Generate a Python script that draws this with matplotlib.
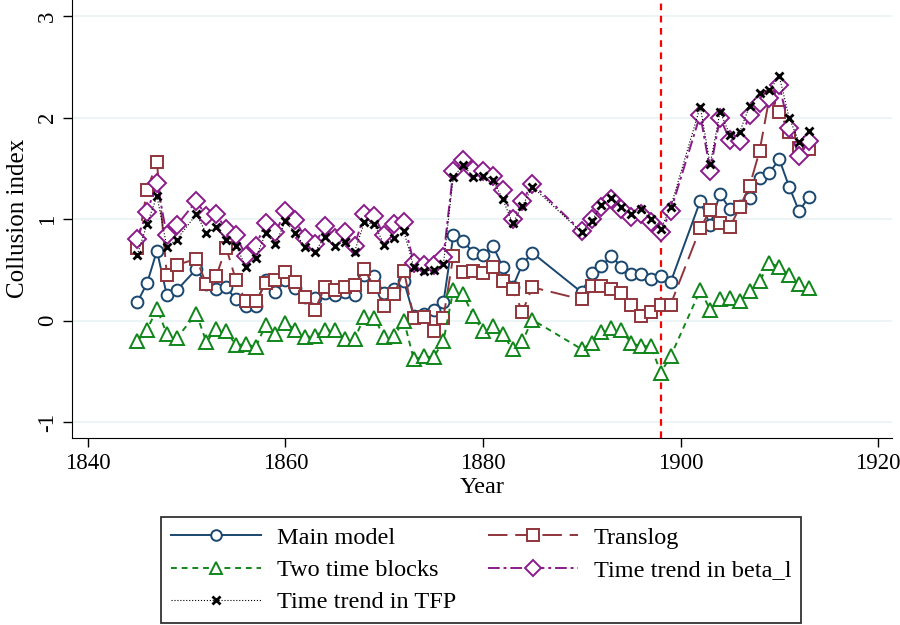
import matplotlib
matplotlib.use("Agg")
import matplotlib.pyplot as plt
import numpy as np

plt.rcParams['font.family'] = ['Liberation Serif', 'DejaVu Serif']

years = [1845, 1846, 1847, 1848, 1849,
         1851, 1852, 1853, 1854, 1855, 1856, 1857, 1858, 1859, 1860,
         1861, 1862, 1863, 1864, 1865, 1866, 1867, 1868, 1869, 1870,
         1871, 1872, 1873, 1874, 1875, 1876, 1877, 1878, 1879, 1880,
         1881, 1882, 1883, 1884, 1885,
         1890, 1891, 1892, 1893, 1894, 1895, 1896, 1897, 1898, 1899,
         1902, 1903, 1904, 1905, 1906, 1907, 1908, 1909, 1910, 1911, 1912, 1913]

main_model = [0.18, 0.37, 0.69, 0.25, 0.30,
              0.51, 0.36, 0.31, 0.33, 0.21, 0.15, 0.15, 0.40, 0.28, 0.40,
              0.32, 0.23, 0.22, 0.27, 0.25, 0.28, 0.25, 0.45, 0.44, 0.27,
              0.31, 0.39, 0.05, 0.07, 0.11, 0.18, 0.84, 0.79, 0.67, 0.65,
              0.74, 0.53, 0.33, 0.56, 0.67,
              0.28, 0.47, 0.54, 0.64, 0.53, 0.46, 0.46, 0.41, 0.44, 0.38,
              1.18, 0.94, 1.25, 1.10, 1.13, 1.21, 1.41, 1.46, 1.59, 1.32, 1.08, 1.22]

translog = [0.72, 1.29, 1.56, 0.45, 0.55,
            0.61, 0.36, 0.44, 0.72, 0.40, 0.19, 0.19, 0.37, 0.40, 0.48,
            0.38, 0.23, 0.11, 0.33, 0.30, 0.33, 0.35, 0.51, 0.33, 0.15,
            0.26, 0.49, 0.03, 0.04, -0.10, 0.03, 0.64, 0.48, 0.49, 0.47,
            0.53, 0.39, 0.31, 0.09, 0.33,
            0.21, 0.34, 0.34, 0.31, 0.27, 0.16, 0.05, 0.09, 0.16, 0.16,
            0.91, 1.09, 0.96, 0.92, 1.12, 1.33, 1.67, 2.20, 2.06, 1.86, 1.70, 1.69]

two_blocks = [-0.20, -0.09, 0.12, -0.13, -0.17,
              0.07, -0.21, -0.08, -0.10, -0.24, -0.23, -0.26, -0.04, -0.13, -0.02,
              -0.09, -0.16, -0.15, -0.09, -0.09, -0.18, -0.18, 0.04, 0.03, -0.16,
              -0.15, 0.00, -0.38, -0.35, -0.36, -0.20, 0.30, 0.26, 0.05, -0.10,
              -0.05, -0.13, -0.28, -0.20, 0.01,
              -0.28, -0.22, -0.11, -0.07, -0.09, -0.22, -0.25, -0.25, -0.51, -0.35,
              0.30, 0.11, 0.21, 0.22, 0.19, 0.29, 0.39, 0.57, 0.53, 0.45, 0.36, 0.32]

trend_beta = [0.81, 1.07, 1.36, 0.84, 0.94,
              1.18, 1.03, 1.05, 0.90, 0.84, 0.64, 0.74, 0.96, 0.87, 1.08,
              0.99, 0.82, 0.76, 0.93, 0.82, 0.87, 0.74, 1.05, 1.03, 0.84,
              0.95, 0.97, 0.57, 0.55, 0.55, 0.63, 1.48, 1.58, 1.49, 1.48,
              1.43, 1.29, 1.00, 1.18, 1.35,
              0.88, 1.00, 1.12, 1.20, 1.10, 1.02, 1.05, 0.97, 0.87, 1.08,
              2.03, 1.48, 2.00, 1.78, 1.77, 2.03, 2.15, 2.19, 2.32, 1.90, 1.62, 1.77]

trend_tfp = [0.65, 0.95, 1.23, 0.73, 0.80,
             1.05, 0.86, 0.92, 0.80, 0.74, 0.53, 0.62, 0.86, 0.76, 0.98,
             0.86, 0.73, 0.68, 0.83, 0.74, 0.78, 0.68, 0.97, 0.95, 0.75,
             0.82, 0.88, 0.53, 0.49, 0.50, 0.56, 1.42, 1.53, 1.42, 1.43,
             1.39, 1.20, 0.96, 1.13, 1.32,
             0.87, 0.98, 1.14, 1.21, 1.12, 1.05, 1.10, 1.00, 0.90, 1.12,
             2.11, 1.54, 2.06, 1.83, 1.86, 2.12, 2.24, 2.27, 2.41, 2.00, 1.76, 1.87]

break_year = 1898

fig = plt.figure(figsize=(9, 6.25), dpi=100)
ax = fig.add_axes([0.08, 0.30, 0.911, 0.70])

navy = '#1a476f'
maroon = '#90353b'
green = '#10861a'
purple = '#8b1a8b'

l1, = ax.plot(years, main_model, color=navy, lw=1.4, marker='o', ms=8.5,
              mfc='white', mec=navy, mew=1.4, label='Main model')
l2, = ax.plot(years, translog, color=maroon, lw=1.4, marker='s', ms=9,
              mfc='white', mec=maroon, mew=1.4, dashes=(10, 4), label='Translog')
l3, = ax.plot(years, two_blocks, color=green, lw=1.4, marker='^', ms=10,
              mfc='white', mec=green, mew=1.4, dashes=(3, 2.5), label='Two time blocks')
l4, = ax.plot(years, trend_beta, color=purple, lw=1.4, marker='D', ms=9,
              mfc='white', mec=purple, mew=1.4, dashes=(6, 2, 1.5, 2),
              label='Time trend in beta_l')
l5, = ax.plot(years, trend_tfp, color='black', lw=0.8, marker='x', ms=6,
              mec='black', mew=2.0, linestyle=':', label='Time trend in TFP')

ax.axvline(break_year, color='red', lw=1.6, dashes=(3, 2.5), zorder=1)

ax.set_xlim(1838.4, 1921.4)
ax.set_ylim(-1.15, 3.16)
ax.set_xticks([1840, 1860, 1880, 1900, 1920])
ax.set_yticks([-1, 0, 1, 2, 3])
ax.set_yticklabels(['-1', '0', '1', '2', '3'], rotation=90, va='center')
ax.grid(axis='y', color='#eaf2f3', lw=1.2, zorder=0)
ax.set_axisbelow(True)
ax.spines['top'].set_visible(False)
ax.spines['right'].set_visible(False)
ax.tick_params(labelsize=16.5, length=6.5, width=1.0, direction='out')
ax.tick_params(axis='x', pad=5)
ax.set_xlabel('Year', fontsize=17.5, labelpad=2)
ax.set_ylabel('Collusion index', fontsize=18, labelpad=6)

leg = fig.legend([l1, l3, l5, l2, l4],
                 ['Main model', 'Two time blocks', 'Time trend in TFP',
                  'Translog', 'Time trend in beta_l'],
                 ncol=2, loc='lower left', bbox_to_anchor=(0.179, 0.003, 0.711, 0.175),
                 mode='expand', borderaxespad=0, fontsize=17.5, frameon=True,
                 fancybox=False, edgecolor='black', handlelength=3.7,
                 handletextpad=0.65, labelspacing=0.42, borderpad=0.4,
                 markerscale=0.9)
leg.get_frame().set_linewidth(1.3)

fig.savefig('out.png', dpi=100)
